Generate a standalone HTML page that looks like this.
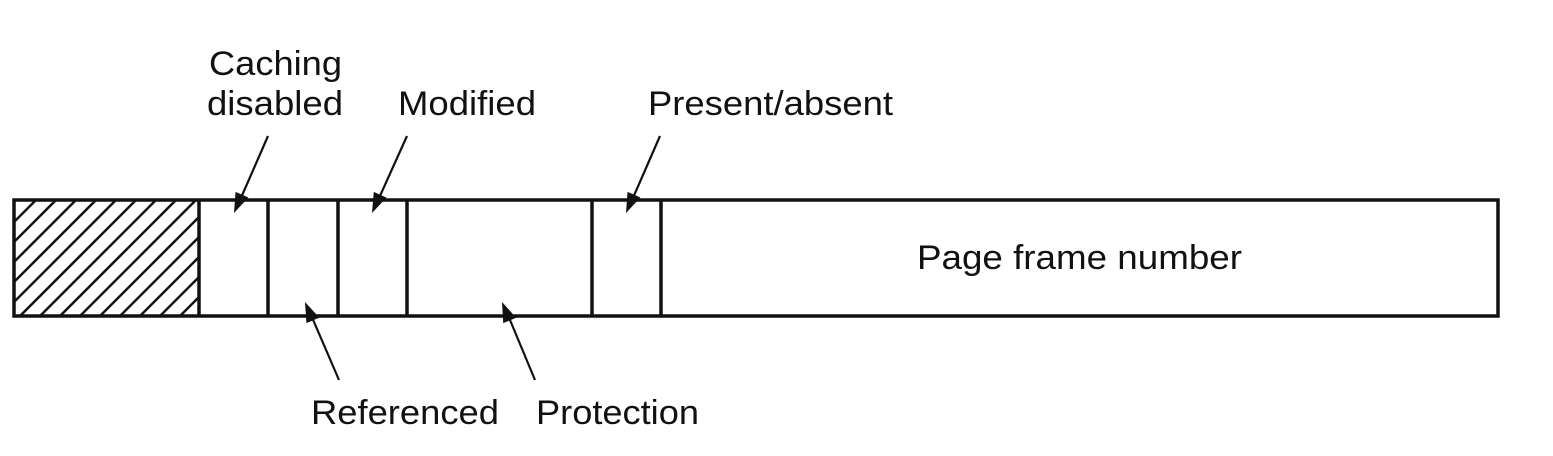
<!DOCTYPE html>
<html><head><meta charset="utf-8"><style>html,body{margin:0;padding:0;background:#fff}svg{display:block}</style></head>
<body>
<svg width="1553" height="456" viewBox="0 0 1553 456" xmlns="http://www.w3.org/2000/svg" font-family="Liberation Sans, Arial, sans-serif" font-size="34" fill="#111">
<defs>
<clipPath id="c"><rect x="14" y="200" width="185" height="116"/></clipPath>
</defs>
<g clip-path="url(#c)" stroke="#111" stroke-width="2.5">
<line x1="-200" y1="316" x2="-84" y2="200"/><line x1="-180" y1="316" x2="-64" y2="200"/><line x1="-160" y1="316" x2="-44" y2="200"/><line x1="-140" y1="316" x2="-24" y2="200"/><line x1="-120" y1="316" x2="-4" y2="200"/><line x1="-100" y1="316" x2="16" y2="200"/><line x1="-80" y1="316" x2="36" y2="200"/><line x1="-60" y1="316" x2="56" y2="200"/><line x1="-40" y1="316" x2="76" y2="200"/><line x1="-20" y1="316" x2="96" y2="200"/><line x1="0" y1="316" x2="116" y2="200"/><line x1="20" y1="316" x2="136" y2="200"/><line x1="40" y1="316" x2="156" y2="200"/><line x1="60" y1="316" x2="176" y2="200"/><line x1="80" y1="316" x2="196" y2="200"/><line x1="100" y1="316" x2="216" y2="200"/><line x1="120" y1="316" x2="236" y2="200"/><line x1="140" y1="316" x2="256" y2="200"/><line x1="160" y1="316" x2="276" y2="200"/><line x1="180" y1="316" x2="296" y2="200"/><line x1="200" y1="316" x2="316" y2="200"/>
</g>
<g stroke="#111" stroke-width="3.5" fill="none">
<rect x="14" y="200" width="1484" height="116"/>
<line x1="199" y1="200" x2="199" y2="316"/>
<line x1="268" y1="200" x2="268" y2="316"/>
<line x1="338" y1="200" x2="338" y2="316"/>
<line x1="407" y1="200" x2="407" y2="316"/>
<line x1="592" y1="200" x2="592" y2="316"/>
<line x1="661" y1="200" x2="661" y2="316"/>
</g>
<g stroke="#111" stroke-width="2.2">
<line x1="268" y1="136" x2="237" y2="207"/>
<line x1="407" y1="136" x2="375" y2="207"/>
<line x1="660" y1="136" x2="629" y2="207"/>
<line x1="339" y1="380" x2="308" y2="308"/>
<line x1="535" y1="380" x2="505" y2="308"/>
</g>
<g fill="#111">
<polygon points="0,0 -20,-7 -20,7" transform="translate(234,213) rotate(113.5)"/>
<polygon points="0,0 -20,-7 -20,7" transform="translate(372,213) rotate(114.1)"/>
<polygon points="0,0 -20,-7 -20,7" transform="translate(626,213) rotate(113.5)"/>
<polygon points="0,0 -20,-7 -20,7" transform="translate(305,302) rotate(246.8)"/>
<polygon points="0,0 -20,-7 -20,7" transform="translate(502,302) rotate(247.4)"/>
</g>
<text x="209" y="75" textLength="133" lengthAdjust="spacingAndGlyphs">Caching</text>
<text x="207" y="115" textLength="136" lengthAdjust="spacingAndGlyphs">disabled</text>
<text x="398" y="115" textLength="138" lengthAdjust="spacingAndGlyphs">Modified</text>
<text x="648" y="115" textLength="245" lengthAdjust="spacingAndGlyphs">Present/absent</text>
<text x="917" y="269" textLength="325" lengthAdjust="spacingAndGlyphs">Page frame number</text>
<text x="311" y="424" textLength="188" lengthAdjust="spacingAndGlyphs">Referenced</text>
<text x="536" y="424" textLength="163" lengthAdjust="spacingAndGlyphs">Protection</text>
</svg>
</body></html>
